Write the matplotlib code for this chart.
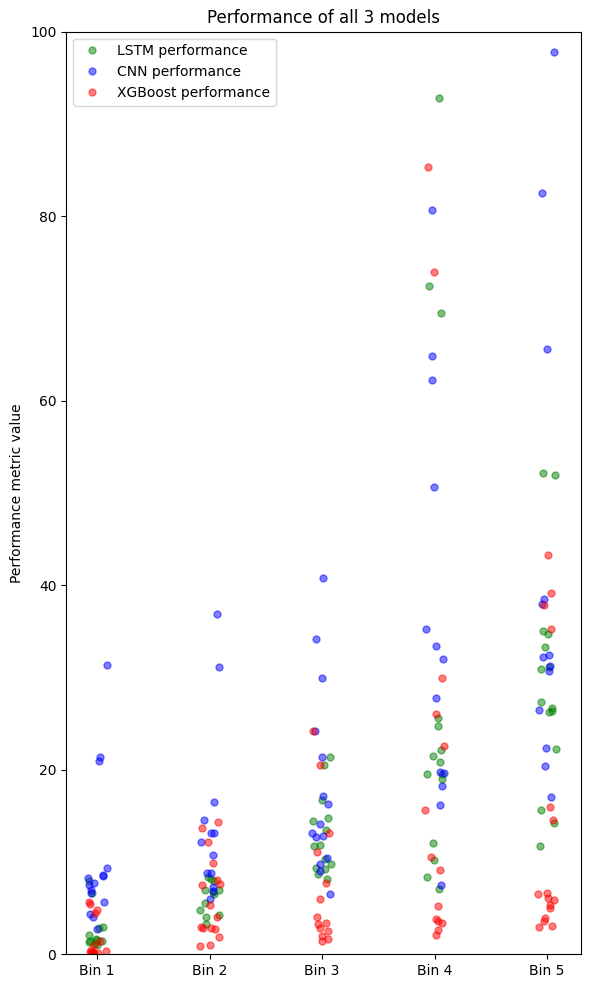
import matplotlib
matplotlib.use("Agg")
import matplotlib.pyplot as plt
import numpy as np

bins = ["Bin 1", "Bin 2", "Bin 3", "Bin 4", "Bin 5"]

# values, one list per bin
lstm = [
    [7.9, 6.6, 3.0, 2.9, 2.1, 1.7, 1.6, 1.4, 1.4, 1.3, 1.2, 1.0],
    [8.4, 8.2, 7.9, 7.0, 7.0, 6.8, 6.5, 5.6, 4.8, 4.3, 4.1, 3.3],
    [21.4, 20.5, 16.7, 14.8, 14.5, 13.5, 11.9, 11.8, 10.3, 9.8, 9.4, 9.2, 8.7, 8.2],
    [92.8, 72.4, 69.5, 25.6, 24.8, 22.2, 21.5, 20.9, 19.5, 19.5, 19.0, 12.1, 10.2, 8.4, 7.1],
    [52.2, 52.0, 35.0, 34.7, 33.3, 31.1, 30.9, 27.3, 26.7, 26.4, 26.3, 22.3, 15.7, 14.2, 11.7],
]
cnn = [
    [31.4, 21.4, 21.0, 9.4, 8.6, 8.5, 8.3, 7.7, 7.5, 7.0, 6.6, 5.7, 4.4, 4.0, 2.8],
    [36.9, 31.1, 16.5, 14.6, 13.2, 13.2, 12.2, 10.8, 8.8, 8.8, 7.3, 6.9, 6.0],
    [40.8, 34.2, 30.0, 24.2, 21.4, 17.2, 16.3, 14.1, 13.2, 12.8, 12.7, 10.4, 9.8, 9.0, 6.5],
    [80.7, 64.9, 62.3, 50.7, 35.3, 33.4, 32.0, 27.8, 19.8, 19.7, 18.3, 16.2, 7.5],
    [97.8, 82.5, 65.6, 38.5, 38.0, 32.4, 32.2, 31.3, 30.7, 26.5, 22.4, 20.4, 17.1],
]
xgb = [
    [5.7, 5.5, 4.8, 4.5, 1.4, 1.0, 0.5, 0.4, 0.3, 0.3, 0.2, 0.2, 0.1, 0.1],
    [14.3, 13.7, 12.2, 9.9, 8.1, 7.6, 7.5, 5.3, 4.1, 3.0, 2.9, 2.9, 2.8, 1.9, 1.0, 0.9],
    [24.2, 20.5, 13.2, 11.1, 7.7, 6.0, 4.1, 3.4, 3.3, 2.9, 2.5, 2.0, 1.7, 1.5],
    [85.3, 73.9, 30.0, 26.0, 22.6, 15.7, 10.6, 9.1, 5.2, 3.8, 3.6, 3.4, 2.6, 2.1],
    [43.3, 39.2, 37.9, 35.3, 16.0, 14.6, 6.7, 6.5, 6.1, 5.9, 5.3, 5.0, 3.9, 3.6, 3.1, 3.0],
]

rng = np.random.default_rng(3)

fig = plt.figure(figsize=(5.9, 9.89), dpi=100)
ax = fig.add_subplot(111)
fig.subplots_adjust(left=0.112, right=0.985, top=0.968, bottom=0.035)

for data, col, lab in [(lstm, "g", "LSTM performance"),
                       (cnn, "b", "CNN performance"),
                       (xgb, "r", "XGBoost performance")]:
    xs, ys = [], []
    for i, vals in enumerate(data):
        xs += list(i + 1 + rng.uniform(-0.09, 0.09, len(vals)))
        ys += vals
    ax.plot(xs, ys, "o", color=col, alpha=0.5, markersize=5, label=lab)

ax.set_xticks(range(1, len(bins) + 1))
ax.set_xticklabels(bins)
ax.set_xlim(0.724, 5.302)
ax.set_ylim(0, 100)
ax.set_ylabel("Performance metric value")
ax.set_title("Performance of all 3 models")
ax.legend(loc="upper left")

plt.savefig("out.png", dpi=100)
